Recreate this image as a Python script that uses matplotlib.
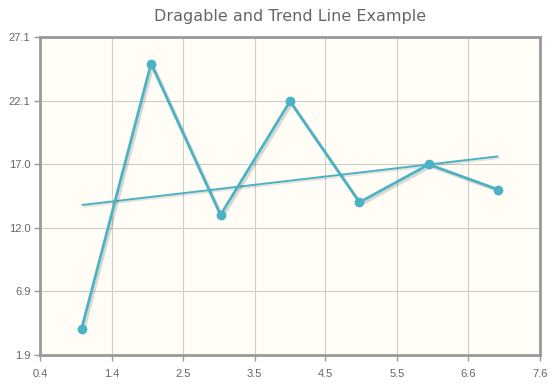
import numpy as np
import matplotlib
matplotlib.use("Agg")
import matplotlib.pyplot as plt
import matplotlib.patheffects as pe

x_vals = [1, 2, 3, 4, 5, 6, 7]
y_vals = [4, 25, 13, 22, 14, 17, 15]
title = "Dragable and Trend Line Example"
x_ticks = [0.4, 1.43, 2.46, 3.49, 4.51, 5.54, 6.57, 7.6]
y_ticks = [1.9, 6.94, 11.98, 17.02, 22.06, 27.1]

fig = plt.figure(figsize=(5.58, 3.89), dpi=100)
fig.patch.set_facecolor("white")
ax = fig.add_axes([40/558, 34/389, 500/558, 318/389])
ax.set_facecolor("#fffdf6")

# trend line (linear regression of the series)
xs = np.array(x_vals, float)
ys = np.array(y_vals, float)
m, b = np.polyfit(xs, ys, 1)
ax.plot([xs[0], xs[-1]], [m*xs[0]+b, m*xs[-1]+b], color="#4bb2c5", lw=1.4,
        path_effects=[pe.SimpleLineShadow(offset=(1.2, -1.2), shadow_color="#000000", alpha=0.10), pe.Normal()],
        zorder=3, solid_capstyle="butt")
ax.plot(xs, ys, color="#4bb2c5", lw=2.0, zorder=4,
        path_effects=[pe.SimpleLineShadow(offset=(1.5, -1.5), shadow_color="#000000", alpha=0.15), pe.Normal()])
ax.plot(xs, ys, ls="none", marker="o", ms=6, color="#4bb2c5", mec="#4bb2c5", zorder=5)

ax.set_xlim(0.4, 7.6)
ax.set_ylim(1.9, 27.1)
ax.set_xticks(x_ticks)
ax.set_xticklabels([f"{v:.1f}" for v in x_ticks])
ax.set_yticks(y_ticks)
ax.set_yticklabels([f"{v:.1f}" for v in y_ticks])
ax.grid(True, color="#cccccc", lw=0.8)
ax.set_axisbelow(True)
for s in ax.spines.values():
    s.set_color("#999999")
    s.set_linewidth(2)
ax.tick_params(axis="both", colors="#999999", length=4, width=1, labelsize=7.5,
               labelcolor="#666666", direction="out")
for lab in ax.get_xticklabels() + ax.get_yticklabels():
    lab.set_family("Liberation Sans")
    lab.set_fontsize(8)
ax.tick_params(axis="x", pad=6)
ax.tick_params(axis="y", pad=3)

fig.text(290/558, 1-17/389, title, ha="center", va="center", fontsize=11.5,
         color="#666666", family="DejaVu Sans")

fig.savefig("out.png", dpi=100)
